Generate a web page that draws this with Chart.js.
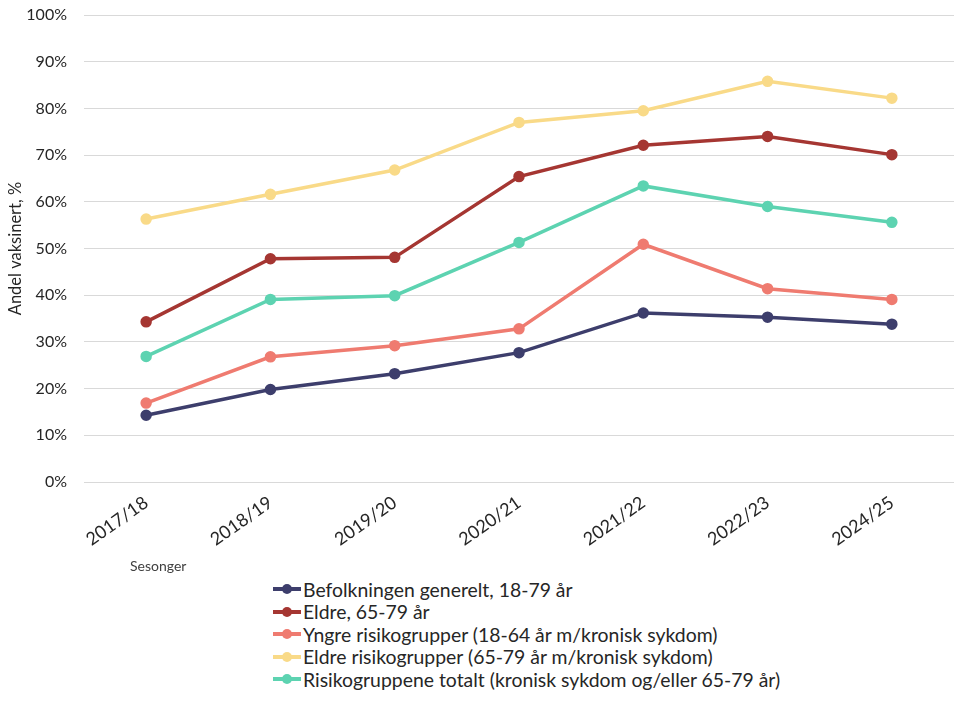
<!DOCTYPE html>
<html lang="no">
<head>
    <meta charset="UTF-8">
    <title>Andel vaksinert</title>
    <script src="https://cdn.jsdelivr.net/npm/chart.js"></script>
    <style>
        body {
            margin: 0;
            background: #ffffff;
            font-family: Lato, sans-serif;
        }
        .wrap {
            position: relative;
            width: 970px;
            height: 708px;
        }
        #chart {
            position: absolute;
            left: 0;
            top: 0;
        }
        .axis-note {
            position: absolute;
            left: 130px;
            top: 557px;
            font-size: 14px;
            color: #404040;
        }
        #legend {
            position: absolute;
            left: 273px;
            top: 578px;
            font-size: 19.4px;
            color: #262626;
        }
        .item {
            display: flex;
            align-items: center;
            height: 22.5px;
        }
        .mark {
            position: relative;
            width: 28px;
            height: 4px;
            margin-right: 2px;
        }
        .mark::after {
            content: '';
            position: absolute;
            left: 9px;
            top: -3px;
            width: 10px;
            height: 10px;
            border-radius: 50%;
            background: inherit;
        }
    </style>
</head>
<body>
    <div class="wrap">
        <canvas id="chart" width="970" height="560"></canvas>
        <div class="axis-note">Sesonger</div>
        <div id="legend"></div>
    </div>

    <script>
        // Sesonger
        const seasons = ['2017/18', '2018/19', '2019/20', '2020/21', '2021/22', '2022/23', '2024/25'];

        const seriesNames = [
            'Befolkningen generelt, 18-79 år',
            'Eldre, 65-79 år',
            'Yngre risikogrupper (18-64 år m/kronisk sykdom)',
            'Eldre risikogrupper (65-79 år m/kronisk sykdom)',
            'Risikogruppene totalt (kronisk sykdom og/eller 65-79 år)'
        ];

        // andel vaksinert, %
        const befolkningen = [14.3, 19.8, 23.2, 27.7, 36.2, 35.3, 33.8];
        const eldre = [34.3, 47.8, 48.1, 65.4, 72.1, 74.0, 70.1];
        const yngreRisiko = [16.9, 26.8, 29.2, 32.8, 50.9, 41.4, 39.1];
        const eldreRisiko = [56.3, 61.6, 66.8, 77.0, 79.5, 85.8, 82.2];
        const risikoTotalt = [26.9, 39.1, 39.9, 51.3, 63.4, 59.0, 55.6];

        const yTicks = [0, 10, 20, 30, 40, 50, 60, 70, 80, 90, 100];

        const colors = ['#3d3e6c', '#a53632', '#ef7b70', '#f9da88', '#5dd3b1'];
        const values = [befolkningen, eldre, yngreRisiko, eldreRisiko, risikoTotalt];

        const datasets = seriesNames.map((name, i) => ({
            label: name,
            data: values[i],
            borderColor: colors[i],
            backgroundColor: colors[i],
            borderWidth: 3.5,
            pointRadius: 4,
            pointHoverRadius: 5,
            tension: 0
        }));

        const chart = new Chart(document.getElementById('chart'), {
            type: 'line',
            data: { labels: seasons, datasets: datasets },
            options: {
                responsive: false,
                animation: false,
                layout: { padding: { top: 15, right: 16, left: 0, bottom: 0 } },
                plugins: {
                    legend: { display: false },
                    tooltip: { enabled: false }
                },
                scales: {
                    x: {
                        offset: true,
                        grid: { display: false, drawTicks: false },
                        border: { display: false },
                        ticks: {
                            color: '#262626',
                            font: { family: 'Lato', size: 18 },
                            minRotation: 35,
                            maxRotation: 35,
                            padding: 10
                        },
                        afterFit: (scale) => {
                            scale.height = 78;
                            scale.paddingTop = 0;
                            scale.paddingBottom = 0;
                        }
                    },
                    y: {
                        min: 0,
                        max: 100,
                        afterBuildTicks: (scale) => {
                            scale.ticks = yTicks.map(v => ({ value: v }));
                        },
                        grid: { color: '#d9d9d9', lineWidth: 1, drawTicks: false },
                        border: { display: false },
                        ticks: {
                            color: '#262626',
                            font: { family: 'Lato', size: 16 },
                            padding: 17,
                            callback: (v) => v + '%'
                        },
                        title: {
                            display: true,
                            text: 'Andel vaksinert, %',
                            color: '#262626',
                            font: { family: 'Lato', size: 16.5 },
                            padding: { top: 6, bottom: 0 }
                        },
                        afterFit: (scale) => {
                            scale.width = 84;
                            scale.paddingTop = 0;
                            scale.paddingBottom = 0;
                        }
                    }
                }
            }
        });

        // legend below the chart
        const legendEl = document.getElementById('legend');
        chart.data.datasets.forEach(ds => {
            const row = document.createElement('div');
            row.className = 'item';
            const mark = document.createElement('span');
            mark.className = 'mark';
            mark.style.background = ds.borderColor;
            const text = document.createElement('span');
            text.textContent = ds.label;
            row.appendChild(mark);
            row.appendChild(text);
            legendEl.appendChild(row);
        });
    </script>
</body>
</html>
